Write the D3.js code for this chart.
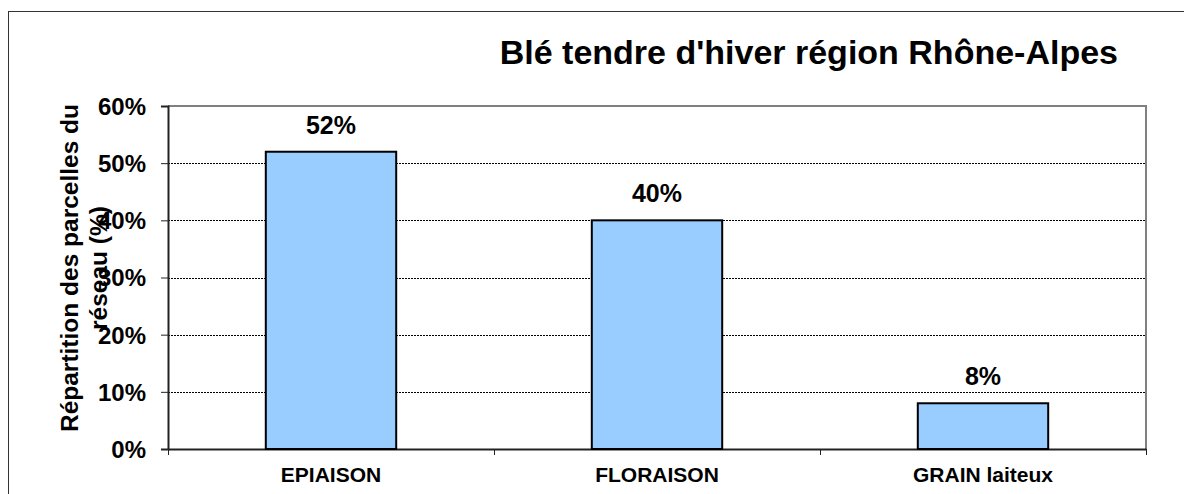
<!DOCTYPE html>
<html>
<head>
<meta charset="utf-8">
<script src="https://cdn.jsdelivr.net/npm/d3@7"></script>
<style>
  body { margin: 0; background: #fff; }
  svg text { font-family: "Liberation Sans", Arial, sans-serif; font-weight: bold; fill: #000; }
</style>
</head>
<body>
<script>
// chart data
const categories = ['EPIAISON', 'FLORAISON', 'GRAIN laiteux'];
const values = [0.52, 0.40, 0.08];
const yTicks = [0, 0.1, 0.2, 0.3, 0.4, 0.5, 0.6];
const title = "Blé tendre d'hiver région Rhône-Alpes";
const yTitle = ['Répartition des parcelles du', 'réseau (%)'];

const w = 1184;
const h = 494;
const plotLeft = 168, plotRight = 1146, plotTop = 106, plotBottom = 449;

const svg = d3.select('body')
              .append('svg')
              .attr('width', w)
              .attr('height', h);

// outer frame
svg.append('rect')
   .attr('x', 8.5)
   .attr('y', 11.5)
   .attr('width', 1300)
   .attr('height', 600)
   .attr('fill', 'none')
   .attr('stroke', '#333')
   .attr('stroke-width', 1);

const xScale = d3.scaleBand()
                 .domain(categories)
                 .range([plotLeft, plotRight])
                 .paddingInner(0.6)
                 .paddingOuter(0.3);

const yScale = d3.scaleLinear()
                 .domain([0, 0.6])
                 .range([plotBottom, plotTop]);

const fmt = d3.format('.0%');

// gridlines (dotted)
svg.append('g')
   .selectAll('line')
   .data(yTicks.filter(t => t > 0 && t < 0.6))
   .enter()
   .append('line')
   .attr('x1', plotLeft)
   .attr('x2', plotRight)
   .attr('y1', d => Math.round(yScale(d)) + 0.5)
   .attr('y2', d => Math.round(yScale(d)) + 0.5)
   .attr('stroke', '#000')
   .attr('stroke-width', 1)
   .attr('stroke-dasharray', '2,1');

// plot border top and right (gray)
svg.append('path')
   .attr('d', 'M' + plotLeft + ',' + yScale(0.6) + 'H' + plotRight + 'V' + plotBottom)
   .attr('fill', 'none')
   .attr('stroke', '#808080')
   .attr('stroke-width', 2);

// y axis
const yAxis = d3.axisLeft(yScale)
                .tickValues(yTicks)
                .tickFormat(fmt)
                .tickSize(7)
                .tickPadding(15);

const gy = svg.append('g')
   .attr('id', 'y-axis')
   .attr('transform', 'translate(' + plotLeft + ',0)')
   .call(yAxis);
gy.select('.domain').attr('stroke', '#222').attr('stroke-width', 2);
gy.selectAll('.tick line').attr('stroke', '#222');
gy.selectAll('text')
  .style('font-size', '24px')
  .attr('dy', '0.35em');

// x axis: ticks at category boundaries
const bScale = d3.scaleLinear().domain([0, categories.length]).range([plotLeft, plotRight]);
const xAxis = d3.axisBottom(bScale)
                .tickValues(d3.range(categories.length + 1))
                .tickFormat('')
                .tickSize(6)
                .tickSizeOuter(0);
const gx = svg.append('g')
   .attr('id', 'x-axis')
   .attr('transform', 'translate(0,' + plotBottom + ')')
   .call(xAxis);
gx.select('.domain').attr('stroke', '#222').attr('stroke-width', 2);
gx.selectAll('.tick line').attr('stroke', '#222');

// category labels
svg.append('g')
   .selectAll('text')
   .data(categories)
   .enter()
   .append('text')
   .attr('x', d => xScale(d) + xScale.bandwidth() / 2)
   .attr('y', 482)
   .attr('text-anchor', 'middle')
   .style('font-size', '21px')
   .text(d => d);

// bars
svg.selectAll('rect.bar')
   .data(values)
   .enter()
   .append('rect')
   .attr('class', 'bar')
   .attr('x', (d, i) => xScale(categories[i]))
   .attr('y', d => yScale(d))
   .attr('width', xScale.bandwidth())
   .attr('height', d => yScale(0) - yScale(d))
   .attr('fill', '#99CCFF')
   .attr('stroke', '#000')
   .attr('stroke-width', 2);

// value labels
svg.selectAll('text.value')
   .data(values)
   .enter()
   .append('text')
   .attr('class', 'value')
   .attr('x', (d, i) => xScale(categories[i]) + xScale.bandwidth() / 2)
   .attr('y', d => yScale(d) - 18)
   .attr('text-anchor', 'middle')
   .style('font-size', '25px')
   .text(d => fmt(d));

// title
svg.append('text')
   .attr('x', 1118)
   .attr('y', 64)
   .attr('text-anchor', 'end')
   .style('font-size', '34px')
   .text(title);

// y axis title (two lines, rotated)
svg.append('text')
   .attr('transform', 'translate(0,268) rotate(-90)')
   .attr('text-anchor', 'middle')
   .style('font-size', '24.5px')
   .selectAll('tspan')
   .data(yTitle)
   .enter()
   .append('tspan')
   .attr('x', 0)
   .attr('y', (d, i) => 78 + i * 29)
   .text(d => d);
</script>
</body>
</html>
